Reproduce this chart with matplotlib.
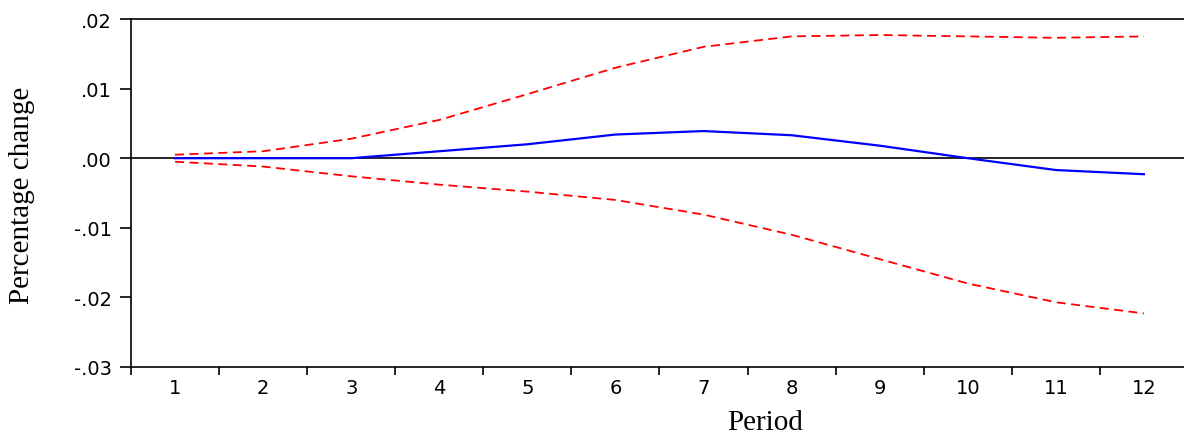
import matplotlib
matplotlib.use("Agg")
import matplotlib.pyplot as plt

periods = [1, 2, 3, 4, 5, 6, 7, 8, 9, 10, 11, 12]
response = [0.0, 0.0, 0.0, 0.001, 0.002, 0.0034, 0.0039, 0.0033, 0.0018, 0.0, -0.0017, -0.0023]
upper = [0.0005, 0.001, 0.0028, 0.0055, 0.0092, 0.013, 0.016, 0.0175, 0.0177, 0.0175, 0.0173, 0.0175]
lower = [-0.0005, -0.0012, -0.0026, -0.0038, -0.0048, -0.006, -0.0081, -0.011, -0.0145, -0.018, -0.0207, -0.0223]
yticks = [-0.03, -0.02, -0.01, 0.0, 0.01, 0.02]
ytick_labels = ["-.03", "-.02", "-.01", ".00", ".01", ".02"]

fig = plt.figure(figsize=(11.84, 4.35), dpi=100)
ax = fig.add_axes([131/1184, 1 - 368/435, 1 - 131/1184, (368 - 20)/435])

ax.plot(periods, response, color="#0000ff", lw=1.6, zorder=3)
ax.plot(periods, upper, color="#ff0000", lw=1.3, ls=(0, (5, 3)), zorder=3)
ax.plot(periods, lower, color="#ff0000", lw=1.3, ls=(0, (5, 3)), zorder=3)
ax.axhline(0, color="black", lw=1.2, zorder=2)

ax.set_xlim(0.5, 12.455)
ax.set_ylim(-0.03, 0.02)

ax.set_yticks(yticks)
ax.set_yticklabels(ytick_labels, fontfamily="DejaVu Sans", fontsize=14)
ax.set_xticks([p - 0.5 for p in periods])
ax.set_xticklabels([])
ax.set_xticks(periods, minor=True)
ax.set_xticklabels([str(p) for p in periods], minor=True,
                   fontfamily="DejaVu Sans", fontsize=14)
ax.tick_params(axis="x", which="minor", length=0, pad=8)
ax.tick_params(axis="x", which="major", direction="out", length=6, width=1.2)
ax.tick_params(axis="y", which="major", direction="out", length=8, width=1.2, pad=6)

for s in ["left", "bottom", "top"]:
    ax.spines[s].set_linewidth(1.2)
ax.spines["right"].set_visible(False)

fig.text(22/1184, 1 - 195/435, "Percentage change", rotation=90, va="center", ha="center",
         fontfamily="Liberation Serif", fontsize=21)
fig.text(765/1184, 1 - 423/435, "Period", va="center", ha="center",
         fontfamily="Liberation Serif", fontsize=21)

fig.savefig("out.png", dpi=100)
